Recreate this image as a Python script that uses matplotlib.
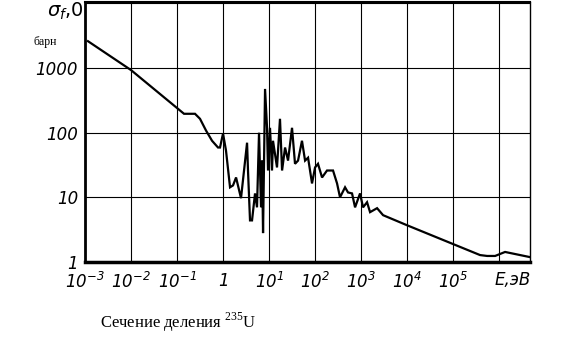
import matplotlib
matplotlib.use("Agg")
import matplotlib.pyplot as plt
import numpy as np

plt.rcParams['mathtext.fontset'] = 'custom'
plt.rcParams['mathtext.rm'] = 'DejaVu Sans:italic'
plt.rcParams['mathtext.it'] = 'DejaVu Sans:italic'
plt.rcParams['mathtext.sf'] = 'Liberation Serif'
plt.rcParams['mathtext.default'] = 'it'

# Energy (eV) and fission cross-section (barn)
energy = [1.16e-3, 0.01, 0.105, 0.142, 0.246, 0.316, 0.427, 0.577, 0.778, 0.86,
          1.0, 1.16, 1.42, 1.65, 1.92, 2.46, 3.33, 3.49, 3.86, 4.27,
          4.96, 5.48, 6.06, 6.70, 7.05, 7.41, 8.19, 9.05, 9.5, 10.5,
          11.6, 12.2, 14.9, 17.3, 19.2, 22.3, 25.9, 31.6, 36.7, 42.7,
          52, 60.7, 70.5, 86, 100, 116, 142, 182, 246, 301,
          349, 449, 521, 637, 741, 951, 1105, 1350, 1570, 2230,
          3010, 1e4, 3.86e5, 5.5e5, 8.2e5, 1.35e6, 4.7e6]
sigma = [2600, 930, 234, 196, 196, 164, 108, 75, 59, 59,
         97, 53, 14.3, 15.3, 20.3, 9.7, 70, 26, 4.4, 4.4,
         11.5, 7.0, 100, 7.0, 37, 2.8, 475, 119, 26, 119,
         26, 75, 29, 164, 26, 59, 37, 119, 33, 37,
         75, 37, 41, 16.4, 29, 33, 20.3, 26, 26, 16.4,
         10, 14.3, 11.9, 11.5, 7.0, 11.5, 7.0, 8.4, 5.9, 6.8,
         5.3, 3.7, 1.28, 1.24, 1.24, 1.43, 1.19]

x_ticks = [1e-3, 1e-2, 1e-1, 1, 10, 100, 1e3, 1e4, 1e5, 1e6]
x_labels = [r'$10^{-3}$', r'$10^{-2}$', r'$10^{-1}$', r'$1$', r'$10^{1}$',
            r'$10^{2}$', r'$10^{3}$', r'$10^{4}$', r'$10^{5}$', '']
y_ticks = [1, 10, 100, 1000, 1e4]
y_labels = ['1', '10', '100', '1000', '']

fig = plt.figure(figsize=(5.81, 3.63), dpi=100)
ax = fig.add_axes([85/581, 1-262/363, (530-85)/581, 260/363])
ax.plot(energy, sigma, color='black', lw=1.6, solid_joinstyle='miter')
ax.set_xscale('log')
ax.set_yscale('log')
ax.set_xlim(1e-3, 4.7e6)
ax.set_ylim(1, 1.05e4)
ax.set_xticks(x_ticks)
ax.set_xticklabels(x_labels)
ax.set_yticks(y_ticks)
ax.set_yticklabels(y_labels)
ax.minorticks_off()
ax.tick_params(length=0, labelsize=12)
ax.tick_params(axis='x', pad=7)
ax.tick_params(axis='y', pad=5)
for lab in ax.get_yticklabels():
    lab.set_fontstyle('italic')
ax.grid(True, color='black', lw=0.8)
ax.spines['left'].set_linewidth(2.0)
ax.spines['bottom'].set_linewidth(2.5)
ax.spines['top'].set_linewidth(1.5)
ax.spines['right'].set_linewidth(1.0)

fig.text(513/581, 1-280/363, 'E,эВ', fontsize=12, style='italic', ha='center', va='center')
fig.text(47/581, 1-1/363, r'$\sigma_f$,0', fontsize=14, ha='left', va='top')
fig.text(45/581, 1-42/363, 'барн', fontsize=8.5, family='Liberation Serif', ha='center', va='center')
fig.text(100/581, 1-322/363, 'Сечение деления $^{\\mathsf{235}}$U', fontsize=12,
         family='Liberation Serif', ha='left', va='center')

fig.savefig('out.png', dpi=100)
